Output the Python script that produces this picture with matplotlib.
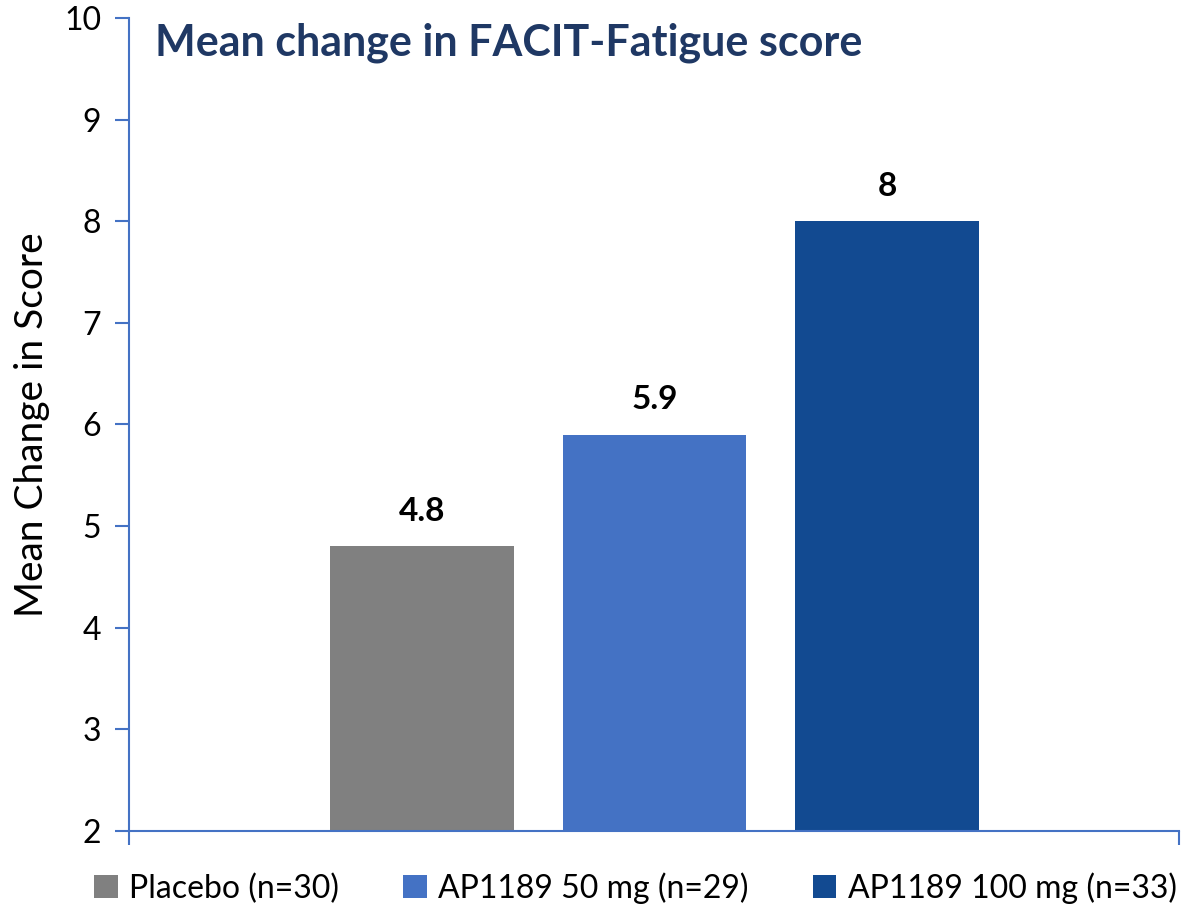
import matplotlib
matplotlib.use("Agg")
import matplotlib.pyplot as plt
from matplotlib.patches import Patch

plt.rcParams['font.family'] = ['Lato', 'DejaVu Sans']

# Mean change in FACIT-Fatigue score by treatment arm
groups = ['Placebo (n=30)', 'AP1189 50 mg (n=29)', 'AP1189 100 mg (n=33)']
mean_change = [4.8, 5.9, 8]
labels = ['4.8', '5.9', '8']
colors = ['#808080', '#4472C4', '#124A91']
yticks = [2, 3, 4, 5, 6, 7, 8, 9, 10]

axis_color = '#4472C4'

fig = plt.figure(figsize=(12.01, 9.08), dpi=100)
ax = fig.add_axes([129 / 1201, 1 - 831 / 908, 1050 / 1201, 813 / 908])

x = range(len(groups))
bars = ax.bar(x, [v - 2 for v in mean_change], bottom=2, width=0.79, color=colors)
for b, lab in zip(bars, labels):
    ax.text(b.get_x() + b.get_width() / 2, b.get_y() + b.get_height() + 0.2, lab,
            ha='center', va='bottom', fontsize=24, fontweight='bold')

ax.set_ylim(2, 10)
ax.set_xlim(-1.26, 3.256)
ax.set_yticks(yticks)
ax.set_xticks([-1.26, 3.256])
ax.set_xticklabels([])
ax.tick_params(axis='y', labelsize=23, length=10, width=1.5, color=axis_color, pad=10)
ax.tick_params(axis='x', length=10, width=1.5, color=axis_color)
for side in ['top', 'right']:
    ax.spines[side].set_visible(False)
for side in ['left', 'bottom']:
    ax.spines[side].set_color(axis_color)
    ax.spines[side].set_linewidth(1.5)

ax.set_ylabel('Mean Change in Score', fontsize=28, labelpad=10)
ax.text(0.025, 0.97, 'Mean change in FACIT-Fatigue score', transform=ax.transAxes,
        ha='left', va='center', fontsize=31, fontweight='bold', color='#1F3864')

handles = [Patch(facecolor=c, edgecolor='none') for c in colors]
fig.legend(handles, groups, loc='center', bbox_to_anchor=(0.529, 1 - 888 / 908), ncol=3,
           frameon=False, fontsize=23, handlelength=0.75, handleheight=0.75,
           handletextpad=0.35, columnspacing=2.0)

fig.savefig('out.png', dpi=100)
